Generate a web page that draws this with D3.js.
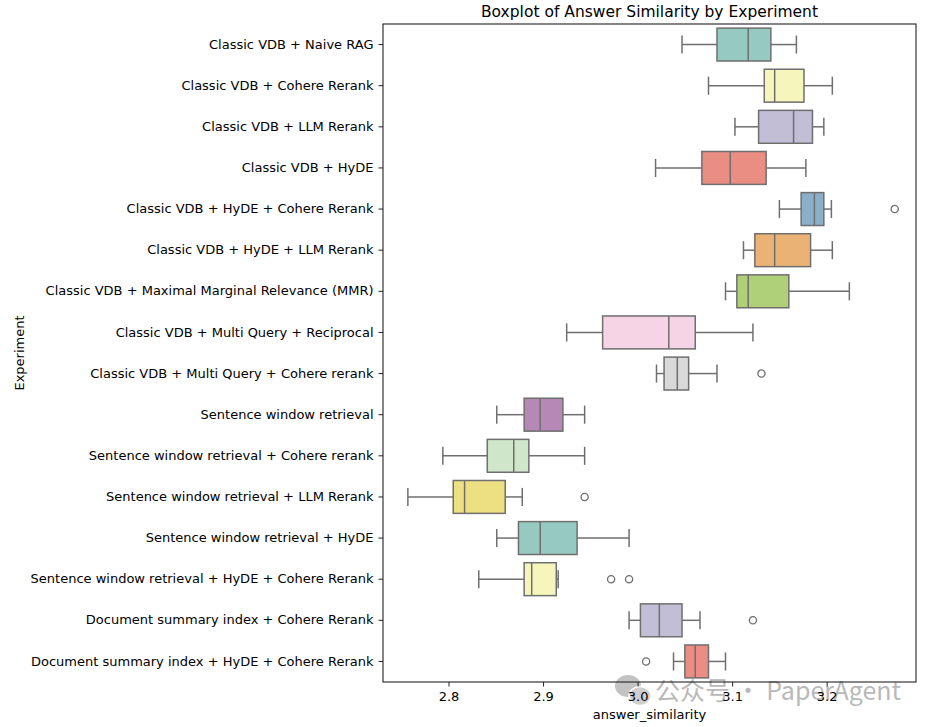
<!DOCTYPE html>
<html lang="en">
<head>
    <meta charset="UTF-8">
    <title>Boxplot of Answer Similarity by Experiment</title>
    <script src="https://d3js.org/d3.v7.min.js"></script>
    <style>
        body { margin: 0; background: #fff; }
        svg { font-family: "DejaVu Sans", sans-serif; }
        .axis path, .axis line { stroke: #222; }
        .axis text { fill: #000; font-size: 13px; font-family: "DejaVu Sans", sans-serif; }
    </style>
</head>
<body>

<div id="chart"></div>

<script>
const width = 931;
const height = 727;
const margin = { top: 24, right: 15, bottom: 45, left: 383 };

// Experiments, top to bottom
const experiments = [
    "Classic VDB + Naive RAG",
    "Classic VDB + Cohere Rerank",
    "Classic VDB + LLM Rerank",
    "Classic VDB + HyDE",
    "Classic VDB + HyDE + Cohere Rerank",
    "Classic VDB + HyDE + LLM Rerank",
    "Classic VDB + Maximal Marginal Relevance (MMR)",
    "Classic VDB + Multi Query + Reciprocal",
    "Classic VDB + Multi Query + Cohere rerank",
    "Sentence window retrieval",
    "Sentence window retrieval + Cohere rerank",
    "Sentence window retrieval + LLM Rerank",
    "Sentence window retrieval + HyDE",
    "Sentence window retrieval + HyDE + Cohere Rerank",
    "Document summary index + Cohere Rerank",
    "Document summary index + HyDE + Cohere Rerank"
];

// Box statistics (answer_similarity)
const whiskerLow  = [3.047, 3.075, 3.103, 3.019, 3.150, 3.112, 3.093, 2.925, 3.020, 2.851, 2.794, 2.757, 2.851, 2.832, 2.991, 3.038];
const q1          = [3.084, 3.134, 3.128, 3.068, 3.173, 3.124, 3.105, 2.963, 3.028, 2.880, 2.841, 2.805, 2.874, 2.880, 3.003, 3.050];
const medians     = [3.117, 3.145, 3.165, 3.098, 3.187, 3.145, 3.117, 3.033, 3.042, 2.897, 2.869, 2.817, 2.897, 2.888, 3.023, 3.061];
const q3          = [3.141, 3.176, 3.185, 3.136, 3.197, 3.183, 3.160, 3.061, 3.054, 2.921, 2.885, 2.860, 2.936, 2.914, 3.047, 3.075];
const whiskerHigh = [3.168, 3.206, 3.197, 3.178, 3.205, 3.206, 3.224, 3.122, 3.084, 2.944, 2.944, 2.878, 2.991, 2.916, 3.066, 3.093];
const outliers    = [[], [], [], [], [3.272], [], [], [], [3.131], [], [], [2.944], [], [2.972, 2.991], [3.122], [3.009]];

const xTicks = [2.8, 2.9, 3.0, 3.1, 3.2];

// seaborn Set3 palette, desaturated like seaborn does (0.75)
const set3 = ["#8dd3c7", "#ffffb3", "#bebada", "#fb8072", "#80b1d3", "#fdb462",
              "#b3de69", "#fccde5", "#d9d9d9", "#bc80bd", "#ccebc5", "#ffed6f"];
function desat(c) {
    const h = d3.hsl(c);
    h.s *= 0.75;
    return h.formatHex();
}
const lineColor = "#6f6f6f";

const boxes = experiments.map((name, i) => ({
    name,
    lo: whiskerLow[i], q1: q1[i], med: medians[i], q3: q3[i], hi: whiskerHigh[i],
    fliers: outliers[i],
    color: desat(set3[i % set3.length])
}));

const svg = d3.select("#chart")
    .append("svg")
    .attr("width", width)
    .attr("height", height);

const x = d3.scaleLinear()
    .domain([2.7307, 3.2945])
    .range([margin.left, width - margin.right]);

const y = d3.scaleBand()
    .domain(experiments)
    .range([margin.top, height - margin.bottom]);

const boxH = y.bandwidth() * 0.8;
const capH = boxH * 0.55;

// watermark (sits under the chart marks)
const wm = svg.append("g").attr("opacity", 0.8);
wm.append("ellipse").attr("cx", 628).attr("cy", 686).attr("rx", 13).attr("ry", 11).attr("fill", "#b5b5b5");
wm.append("ellipse").attr("cx", 640).attr("cy", 696).attr("rx", 11).attr("ry", 9.5).attr("fill", "#c4c4c4")
    .attr("stroke", "#fff").attr("stroke-width", 1.5);
wm.append("text")
    .attr("x", 655)
    .attr("y", 700)
    .style("font-size", "25px")
    .style("font-family", "'Noto Sans CJK SC', sans-serif")
    .attr("fill", "#a8a8a8")
    .text("公众号 · PaperAgent");

const g = svg.selectAll("g.box")
    .data(boxes)
    .join("g")
    .attr("class", "box")
    .attr("transform", d => `translate(0,${y(d.name) + y.bandwidth() / 2})`);

// whiskers
g.append("line")
    .attr("x1", d => x(d.lo)).attr("x2", d => x(d.q1))
    .attr("stroke", lineColor).attr("stroke-width", 1.5);
g.append("line")
    .attr("x1", d => x(d.q3)).attr("x2", d => x(d.hi))
    .attr("stroke", lineColor).attr("stroke-width", 1.5);
// caps
g.append("line")
    .attr("x1", d => x(d.lo)).attr("x2", d => x(d.lo))
    .attr("y1", -capH / 2).attr("y2", capH / 2)
    .attr("stroke", lineColor).attr("stroke-width", 1.5);
g.append("line")
    .attr("x1", d => x(d.hi)).attr("x2", d => x(d.hi))
    .attr("y1", -capH / 2).attr("y2", capH / 2)
    .attr("stroke", lineColor).attr("stroke-width", 1.5);
// box
g.append("rect")
    .attr("x", d => x(d.q1))
    .attr("y", -boxH / 2)
    .attr("width", d => x(d.q3) - x(d.q1))
    .attr("height", boxH)
    .attr("fill", d => d.color)
    .attr("stroke", lineColor)
    .attr("stroke-width", 1.5);
// median
g.append("line")
    .attr("x1", d => x(d.med)).attr("x2", d => x(d.med))
    .attr("y1", -boxH / 2).attr("y2", boxH / 2)
    .attr("stroke", lineColor).attr("stroke-width", 1.5);
// outliers
g.selectAll("circle")
    .data(d => d.fliers)
    .join("circle")
    .attr("cx", d => x(d))
    .attr("r", 3.6)
    .attr("fill", "none")
    .attr("stroke", lineColor)
    .attr("stroke-width", 1.3);

// axes
svg.append("g")
    .attr("class", "axis")
    .attr("transform", `translate(0,${height - margin.bottom})`)
    .call(d3.axisBottom(x).tickValues(xTicks).tickFormat(d3.format(".1f")).tickSize(4.5).tickPadding(5))
    .call(a => a.select(".domain").remove());

svg.append("g")
    .attr("class", "axis")
    .attr("transform", `translate(${margin.left},0)`)
    .call(d3.axisLeft(y).tickSize(4.5).tickPadding(5))
    .call(a => a.select(".domain").remove());

// frame
svg.append("rect")
    .attr("x", margin.left)
    .attr("y", margin.top)
    .attr("width", width - margin.right - margin.left)
    .attr("height", height - margin.bottom - margin.top)
    .attr("fill", "none")
    .attr("stroke", "#222")
    .attr("stroke-width", 1.1);

// labels
svg.append("text")
    .attr("x", (margin.left + width - margin.right) / 2)
    .attr("y", 17)
    .attr("text-anchor", "middle")
    .style("font-size", "15.5px")
    .text("Boxplot of Answer Similarity by Experiment");

svg.append("text")
    .attr("x", (margin.left + width - margin.right) / 2)
    .attr("y", 719)
    .attr("text-anchor", "middle")
    .style("font-size", "13px")
    .text("answer_similarity");

svg.append("text")
    .attr("transform", `translate(24,${(margin.top + height - margin.bottom) / 2}) rotate(-90)`)
    .attr("text-anchor", "middle")
    .style("font-size", "13px")
    .text("Experiment");
</script>

</body>
</html>
